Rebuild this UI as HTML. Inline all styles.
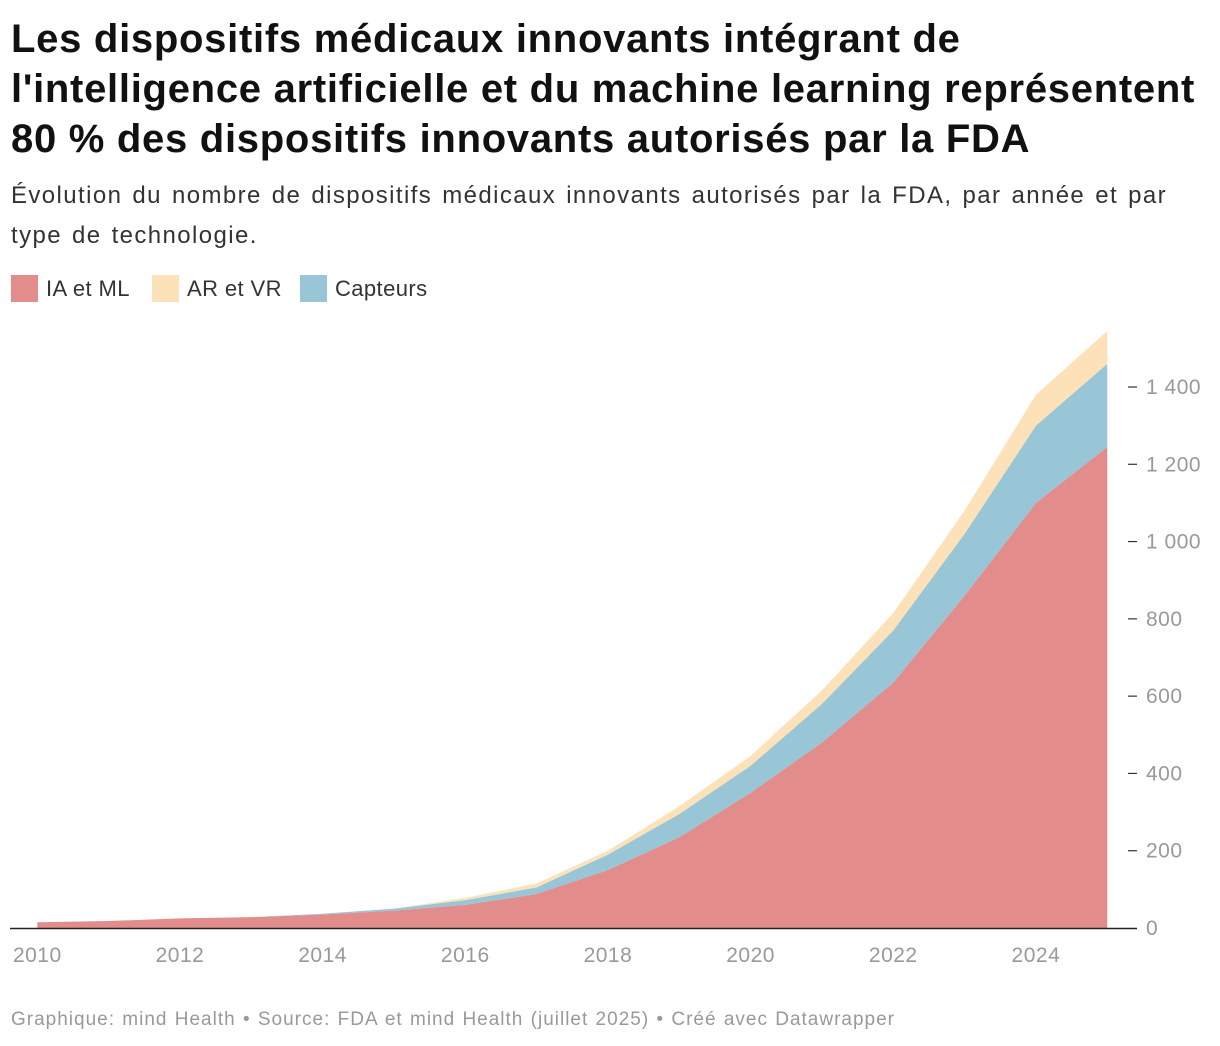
<!DOCTYPE html>
<html><head><meta charset="utf-8"><style>
body{margin:0;background:#fff;font-family:"Liberation Sans",sans-serif;width:1220px;height:1046px;overflow:hidden;position:relative}
h1{position:absolute;left:11px;top:14px;margin:0;font-size:40px;line-height:50px;font-weight:bold;color:#111;letter-spacing:0.72px;white-space:nowrap}
.sub{position:absolute;left:11px;top:176px;font-size:24px;line-height:40px;color:#333;letter-spacing:1.4px;word-spacing:2px;white-space:nowrap}
.leg{position:absolute;top:275px;font-size:22px;letter-spacing:0.4px;color:#333;display:flex;align-items:center}
.sw{width:27px;height:27px;margin-right:8px;display:inline-block}
.foot{position:absolute;left:11px;top:1009px;font-size:19px;color:#999;letter-spacing:1.0px;word-spacing:1px;white-space:nowrap}
</style></head><body>
<h1>Les dispositifs médicaux innovants intégrant de<br>l'intelligence artificielle et du machine learning représentent<br>80 % des dispositifs innovants autorisés par la FDA</h1>
<div class="sub">Évolution du nombre de dispositifs médicaux innovants autorisés par la FDA, par année et par<br>type de technologie.</div>
<div class="leg" style="left:11px"><span class="sw" style="background:#e28d8b"></span>IA et ML</div>
<div class="leg" style="left:152px"><span class="sw" style="background:#fde2b9"></span>AR et VR</div>
<div class="leg" style="left:300px"><span class="sw" style="background:#98c6d6"></span>Capteurs</div>
<svg id="chart" width="1220" height="1046" style="position:absolute;left:0;top:0"></svg>
<div class="foot">Graphique: mind Health • Source: FDA et mind Health (juillet 2025) • Créé avec Datawrapper</div>
<script>
const years=[2010,2011,2012,2013,2014,2015,2016,2017,2018,2019,2020,2021,2022,2023,2024,2025];
const iaMl=[15,18,25,28,35,45,60,88,150,235,350,480,635,860,1100,1245];
const capteurs=[0,0,0,0,2,5,12,17,40,60,70,100,135,160,200,215];
const arVr=[0,0,0,0,0,0,6,10,10,20,25,35,45,60,80,85];
const yTicks=[0,200,400,600,800,1000,1200,1400];
const yTickLabels=["0","200","400","600","800","1 000","1 200","1 400"];
const xTicks=[2010,2012,2014,2016,2018,2020,2022,2024];
const NS="http://www.w3.org/2000/svg";
const svg=document.getElementById('chart');
const x=v=>37.3+(v-2010)*71.33;
const y=v=>928-v*(541/1400);
function el(t,a){const e=document.createElementNS(NS,t);for(const k in a)e.setAttribute(k,a[k]);svg.appendChild(e);return e;}
const series=[{d:iaMl,c:"#e28d8b",n:"area-ia-ml"},{d:capteurs,c:"#98c6d6",n:"area-capteurs"},{d:arVr,c:"#fde2b9",n:"area-ar-vr"}];
let base=years.map(()=>0);
series.forEach(s=>{
  const top=base.map((b,i)=>b+s.d[i]);
  let p=years.map((yr,i)=>(i?'L':'M')+x(yr)+','+y(top[i])).join('');
  for(let i=years.length-1;i>=0;i--)p+='L'+x(years[i])+','+y(base[i]);
  const a=el('path',{d:p+'Z',fill:s.c});
  
  
  base=top;
});
const ax=el('line',{x1:10,x2:1137,y1:928.5,y2:928.5,stroke:'#222','stroke-width':1.5});


yTicks.forEach((v,i)=>{
  if(v>0){const t=el('line',{x1:1128,x2:1137,y1:y(v),y2:y(v),stroke:'#333','stroke-width':1.2});
  
  }
  const tx=el('text',{x:1146,y:y(v)+7,'font-size':21,'letter-spacing':0.5,fill:'#999','font-family':'Liberation Sans, sans-serif'});
  tx.textContent=yTickLabels[i];
  
  
});
xTicks.forEach(v=>{
  const tx=el('text',{x:x(v),y:962,'font-size':21,'letter-spacing':0.5,fill:'#999','text-anchor':'middle','font-family':'Liberation Sans, sans-serif'});
  tx.textContent=v;
  
  
});
</script>
</body></html>
